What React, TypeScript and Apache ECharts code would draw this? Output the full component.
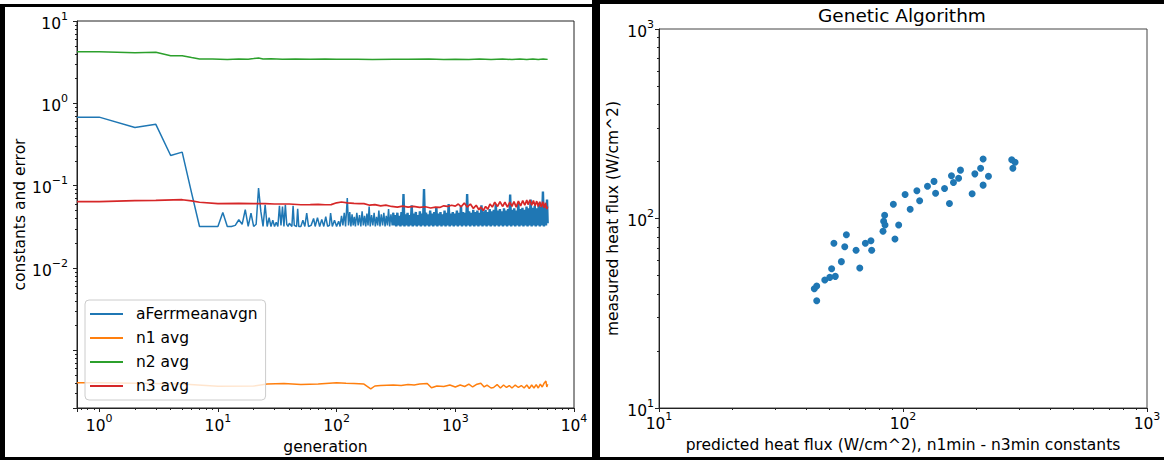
import React, { useEffect, useRef } from 'react';
import * as echarts from 'echarts';

const FONT = "'DejaVu Sans', sans-serif";

const seriesNames = ['aFerrmeanavgn', 'n1 avg', 'n2 avg', 'n3 avg'];
const seriesColors = ['#1f77b4', '#ff7f0e', '#2ca02c', '#d62728'];

// [generation, value] — aFerrmeanavgn, early sparse part
const aFerrEarly: [number, number][] = [
  [0.65, 0.68], [1, 0.68], [2, 0.51], [3, 0.556], [4, 0.233], [5, 0.256], [6, 0.082], [7, 0.032], [8, 0.032], [9, 0.032],
  [10, 0.032], [11, 0.0474], [12, 0.032], [13, 0.032], [14, 0.033], [15, 0.0386], [16, 0.034], [17, 0.0511], [18, 0.032], [19, 0.0466],
  [20, 0.032], [21, 0.034], [22, 0.0938], [23, 0.0488], [24, 0.032], [25, 0.0588], [26, 0.032], [27, 0.0408], [28, 0.032], [29, 0.038],
  [30, 0.032], [31, 0.036], [32, 0.032], [33, 0.057], [34, 0.033], [35, 0.056], [36, 0.032], [37, 0.0588], [38, 0.034], [39, 0.032],
  [40, 0.035], [42, 0.032], [43, 0.057], [44, 0.033], [46, 0.032], [47, 0.0526], [48, 0.032],
  [50, 0.032], [52, 0.038], [54, 0.032], [56, 0.0466], [58, 0.032], [61, 0.033], [64, 0.04], [66, 0.032], [69, 0.041], [72, 0.032],
  [75, 0.039], [78, 0.032], [81, 0.042], [84, 0.032], [87, 0.033], [89, 0.0466], [92, 0.032], [96, 0.038], [100, 0.032], [104, 0.037],
  [107, 0.032], [110, 0.043], [113, 0.033], [116, 0.047], [119, 0.032], [123, 0.071], [126, 0.033], [129, 0.048], [132, 0.032], [135, 0.045],
  [138, 0.033], [141, 0.042], [144, 0.032], [148, 0.047], [152, 0.033], [156, 0.044], [160, 0.032], [164, 0.049], [168, 0.033], [172, 0.043],
  [176, 0.032], [180, 0.046], [184, 0.033], [188, 0.056], [192, 0.032], [197, 0.044], [202, 0.033], [207, 0.047], [212, 0.032], [217, 0.042],
  [222, 0.033], [227, 0.05], [232, 0.032], [238, 0.045], [244, 0.033], [250, 0.047], [256, 0.032], [262, 0.043], [268, 0.033], [274, 0.052],
  [280, 0.032], [287, 0.045], [294, 0.033], [300, 0.047],
];

// aFerrmeanavgn, dense noisy part (same series, drawn as a band)
const aFerrLate: [number, number][] = [
  [300, 0.047],
  [306, 0.033], [312, 0.044], [318, 0.032], [325, 0.047], [331, 0.033], [338, 0.043], [345, 0.032], [352, 0.048], [359, 0.033], [366, 0.079],
  [373, 0.032], [381, 0.045], [389, 0.033], [396, 0.047], [404, 0.032], [412, 0.044], [421, 0.033], [429, 0.058], [438, 0.032], [446, 0.046],
  [455, 0.033], [465, 0.048], [474, 0.032], [484, 0.044], [493, 0.033], [503, 0.049], [513, 0.032], [524, 0.046], [534, 0.033], [545, 0.091],
  [556, 0.032], [567, 0.047], [579, 0.033], [590, 0.045], [602, 0.032], [614, 0.05], [627, 0.033], [639, 0.046], [652, 0.032], [665, 0.048],
  [679, 0.033], [692, 0.055], [706, 0.032], [721, 0.046], [735, 0.033], [750, 0.048], [765, 0.032], [780, 0.045], [796, 0.033], [812, 0.05],
  [828, 0.032], [845, 0.047], [862, 0.033], [879, 0.06], [897, 0.032], [915, 0.046], [933, 0.033], [952, 0.048], [971, 0.032], [991, 0.046],
  [1010, 0.033], [1031, 0.05], [1051, 0.032], [1073, 0.047], [1094, 0.033], [1116, 0.057], [1139, 0.032], [1161, 0.048], [1185, 0.033], [1209, 0.047],
  [1233, 0.032], [1258, 0.079], [1283, 0.033], [1309, 0.049], [1335, 0.032], [1362, 0.047], [1389, 0.033], [1417, 0.051], [1446, 0.032], [1475, 0.048],
  [1504, 0.033], [1534, 0.05], [1565, 0.032], [1597, 0.047], [1629, 0.033], [1661, 0.058], [1695, 0.032], [1729, 0.049], [1763, 0.033], [1799, 0.051],
  [1835, 0.032], [1872, 0.048], [1909, 0.033], [1948, 0.052], [1987, 0.032], [2027, 0.049], [2067, 0.033], [2109, 0.051], [2151, 0.032], [2194, 0.06],
  [2238, 0.033], [2283, 0.05], [2329, 0.032], [2376, 0.052], [2423, 0.033], [2472, 0.049], [2522, 0.032], [2572, 0.053], [2624, 0.033], [2676, 0.05],
  [2730, 0.032], [2785, 0.052], [2841, 0.033], [2898, 0.078], [2956, 0.032], [3015, 0.051], [3076, 0.033], [3138, 0.053], [3200, 0.032], [3265, 0.05],
  [3330, 0.033], [3397, 0.062], [3465, 0.032], [3535, 0.052], [3606, 0.033], [3678, 0.054], [3752, 0.032], [3827, 0.051], [3904, 0.033], [3982, 0.056],
  [4062, 0.032], [4144, 0.053], [4227, 0.033], [4312, 0.068], [4398, 0.032], [4487, 0.054], [4577, 0.033], [4669, 0.057], [4762, 0.032], [4858, 0.053],
  [4955, 0.033], [5055, 0.062], [5156, 0.032], [5260, 0.056], [5365, 0.033], [5473, 0.085], [5583, 0.032], [5695, 0.058], [5809, 0.033], [5926, 0.068],
  [6000, 0.035],
];

const n1Avg: [number, number][] = [
  [0.65, 0.000404], [1, 0.000404], [2, 0.0004], [5, 0.00039], [10, 0.000368], [20, 0.00037], [26, 0.00039], [36, 0.000397], [50, 0.000385], [70, 0.00039],
  [100, 0.000406], [120, 0.0004], [140, 0.000397], [170, 0.00039], [194, 0.000342], [210, 0.00037], [235, 0.000375], [300, 0.00038], [350, 0.000375], [400, 0.000385],
  [450, 0.00038], [500, 0.00039], [580, 0.000397], [630, 0.000352], [700, 0.00037], [800, 0.000365], [900, 0.00038], [1000, 0.00036], [1100, 0.00038], [1200, 0.000365],
  [1300, 0.00039], [1400, 0.00036], [1500, 0.000385], [1640, 0.0004], [1750, 0.00036], [1850, 0.00038], [2000, 0.00035], [2100, 0.000355], [2250, 0.000385], [2400, 0.00035],
  [2550, 0.00038], [2700, 0.000355], [2850, 0.000375], [3000, 0.00035], [3200, 0.00038], [3400, 0.000355], [3600, 0.000375], [3800, 0.00035], [4000, 0.00038], [4200, 0.000345],
  [4400, 0.00038], [4600, 0.00035], [4800, 0.000385], [5000, 0.00035], [5200, 0.00039], [5400, 0.00036], [5600, 0.0004], [5800, 0.000425], [5900, 0.00036], [6000, 0.00039],
];

const n2Avg: [number, number][] = [
  [0.65, 4.24], [1, 4.24], [2, 4.12], [3, 4.17], [4, 3.79], [5, 3.79], [6, 3.6], [7, 3.45], [9, 3.45], [12, 3.42],
  [15, 3.46], [18, 3.44], [20, 3.5], [22, 3.56], [24, 3.45], [28, 3.47], [35, 3.44], [45, 3.46], [60, 3.44], [80, 3.45],
  [100, 3.43], [150, 3.44], [200, 3.42], [300, 3.44], [400, 3.43], [600, 3.45], [800, 3.42], [1000, 3.44], [1300, 3.41], [1600, 3.45],
  [2000, 3.41], [2500, 3.45], [3000, 3.4], [3500, 3.45], [4000, 3.41], [4500, 3.46], [5000, 3.4], [5500, 3.46], [6000, 3.42],
];

const n3Avg: [number, number][] = [
  [0.65, 0.064], [1, 0.064], [2, 0.066], [3, 0.0665], [5, 0.0676], [6, 0.0655], [7, 0.063], [10, 0.0605], [15, 0.061], [20, 0.0605],
  [25, 0.0605], [30, 0.06], [40, 0.06], [50, 0.0587], [60, 0.059], [70, 0.0595], [80, 0.0587], [90, 0.059], [100, 0.062], [110, 0.0634],
  [123, 0.062], [140, 0.061], [155, 0.0605], [170, 0.0605], [190, 0.058], [210, 0.059], [235, 0.057], [260, 0.058], [290, 0.056], [325, 0.055],
  [360, 0.0565], [400, 0.055], [445, 0.056], [500, 0.0545], [560, 0.0555], [620, 0.0536], [680, 0.055], [740, 0.0545], [800, 0.057], [860, 0.056],
  [930, 0.058], [1000, 0.0565], [1060, 0.06], [1120, 0.0555], [1190, 0.0615], [1260, 0.055], [1340, 0.06], [1420, 0.053], [1500, 0.058], [1580, 0.051],
  [1640, 0.055], [1720, 0.05], [1800, 0.056], [1880, 0.052], [1960, 0.06], [2050, 0.055], [2150, 0.063], [2270, 0.056], [2380, 0.064], [2500, 0.056],
  [2620, 0.063], [2750, 0.055], [2880, 0.063], [3000, 0.056], [3120, 0.064], [3260, 0.055], [3400, 0.065], [3550, 0.057], [3700, 0.066], [3850, 0.058],
  [4000, 0.067], [4100, 0.059], [4250, 0.067], [4400, 0.058], [4550, 0.066], [4700, 0.057], [4850, 0.065], [5000, 0.056], [5150, 0.064], [5300, 0.055],
  [5450, 0.064], [5600, 0.054], [5750, 0.062], [5900, 0.052], [6000, 0.056],
];

// Right panel
const predictedFlux = [213, 279, 288, 282, 208, 172, 197, 224, 158, 169, 161, 134, 126, 148, 213, 114, 136, 192, 102, 117, 155, 91.3, 107, 84.1, 83.3, 84.4, 96.0, 82.8, 58.6, 92.7, 52.1, 70.1, 73.9, 57.7, 64.2, 74.4, 55.9, 51.0, 66.5, 47.8, 50.1, 52.8, 43.3, 44.3, 44.3];
const measuredFlux = [206, 204, 198, 184, 184, 180, 172, 167, 168, 163, 155, 157, 148, 144, 150, 140, 136, 135, 134, 124, 120, 119, 112, 104, 96.7, 92.4, 92.4, 85.6, 82.1, 78.0, 74.0, 74.0, 76.3, 71.0, 68.0, 68.0, 59.2, 54.3, 54.8, 47.4, 48.9, 49.5, 42.6, 44.0, 36.8];

function powLabel(minExp: number) {
  return (v: number) => {
    const l = Math.log10(v);
    const e = Math.round(l);
    if (Math.abs(l - e) > 1e-6 || e < minExp) return '';
    const es = e < 0 ? '\u2212' + -e : String(e);
    return '{b|10}{s|' + es + '}';
  };
}

const rich = {
  b: { fontSize: 15.5, lineHeight: 21, verticalAlign: 'bottom', fontFamily: FONT, color: '#000' },
  s: { fontSize: 11, lineHeight: 12, verticalAlign: 'top', fontFamily: FONT, color: '#000' },
};

function logAxis(gridIndex: number, min: number, max: number, minExp: number, margin: number, name: string, nameGap: number) {
  return {
    type: 'log',
    logBase: 10,
    gridIndex,
    min,
    max,
    splitNumber: 4,
    name,
    nameLocation: 'middle',
    nameGap,
    nameTextStyle: { fontFamily: FONT, fontSize: 15.5, color: '#000' },
    axisLine: { show: true, lineStyle: { color: '#222', width: 1 } },
    axisTick: { show: true, length: 4, lineStyle: { color: '#222', width: 1 } },
    minorTick: { show: true, splitNumber: 9, length: 2, lineStyle: { color: '#222', width: 1 } },
    splitLine: { show: false },
    axisLabel: { formatter: powLabel(minExp), rich, margin, color: '#000' },
  };
}

export default function App() {
  const ref = useRef<HTMLDivElement>(null);
  useEffect(() => {
    if (!ref.current) return;
    const chart = echarts.init(ref.current, undefined, { renderer: 'svg' });
    const lineSeries = [
      { name: seriesNames[0], data: aFerrEarly, color: seriesColors[0], width: 1.5, z: 2 },
      { name: seriesNames[0], data: aFerrLate, color: seriesColors[0], width: 2.4, z: 2 },
      { name: seriesNames[1], data: n1Avg, color: seriesColors[1], width: 1.5, z: 3 },
      { name: seriesNames[2], data: n2Avg, color: seriesColors[2], width: 1.5, z: 4 },
      { name: seriesNames[3], data: n3Avg, color: seriesColors[3], width: 1.7, z: 5 },
    ];
    const option: any = {
      animation: false,
      backgroundColor: '#fff',
      textStyle: { fontFamily: FONT },
      title: {
        text: 'Genetic Algorithm',
        left: 818,
        top: 6,
        padding: 0,
        textStyle: { fontFamily: FONT, fontSize: 18.5, fontWeight: 'normal', color: '#000' },
      },
      grid: [
        { left: 77, top: 21, width: 497, height: 387, show: true, borderColor: '#222', borderWidth: 1, backgroundColor: 'transparent', outerBoundsMode: 'none' },
        { left: 659, top: 29, width: 488, height: 379, show: true, borderColor: '#444', borderWidth: 1, backgroundColor: 'transparent', outerBoundsMode: 'none' },
      ],
      xAxis: [
        logAxis(0, 0.65, 10000, -10, 5, 'generation', 26),
        logAxis(1, 10, 1000, -10, 3, 'predicted heat flux (W/cm^2), n1min - n3min constants', 25),
      ],
      yAxis: [
        logAxis(0, 0.0002, 10, -2, 9, 'constants and error', 49),
        logAxis(1, 10, 1000, -10, 5, 'measured heat flux (W/cm^2)', 38),
      ],
      legend: {
        orient: 'vertical',
        left: 85,
        top: 300,
        data: seriesNames,
        icon: 'rect',
        itemWidth: 33,
        itemHeight: 2,
        itemGap: 8,
        padding: [6, 8, 6, 5],
        backgroundColor: 'rgba(255,255,255,0.8)',
        borderColor: '#ccc',
        borderWidth: 1,
        borderRadius: 4,
        textStyle: { fontFamily: FONT, fontSize: 15.5, color: '#000', lineHeight: 16, padding: [0, 0, 0, 8] },
        z: 10,
      },
      series: [
        ...lineSeries.map((s) => ({
          name: s.name,
          type: 'line',
          xAxisIndex: 0,
          yAxisIndex: 0,
          data: s.data,
          symbol: 'none',
          showSymbol: false,
          color: s.color,
          lineStyle: { width: s.width, color: s.color },
          z: s.z,
        })),
        {
          type: 'scatter',
          xAxisIndex: 1,
          yAxisIndex: 1,
          data: predictedFlux.map((p, i) => [p, measuredFlux[i]]),
          symbol: 'circle',
          symbolSize: 7,
          itemStyle: { color: '#1f77b4', opacity: 1 },
        },
      ],
      graphic: [
        { type: 'rect', shape: { x: 0, y: 4, width: 5, height: 456 }, style: { fill: '#000' }, z: 100 },
        { type: 'rect', shape: { x: 0, y: 4, width: 600, height: 3 }, style: { fill: '#000' }, z: 100 },
        { type: 'rect', shape: { x: 592, y: 0, width: 8, height: 460 }, style: { fill: '#000' }, z: 100 },
        { type: 'rect', shape: { x: 0, y: 457, width: 1164, height: 3 }, style: { fill: '#000' }, z: 100 },
        { type: 'rect', shape: { x: 596, y: 0, width: 568, height: 4 }, style: { fill: '#000' }, z: 100 },
      ],
    };
    chart.setOption(option);
    return () => chart.dispose();
  }, []);
  return (
    <div
      ref={ref}
      style={{ position: 'absolute', left: 0, top: 0, width: 1164, height: 460, background: '#fff' }}
    />
  );
}
